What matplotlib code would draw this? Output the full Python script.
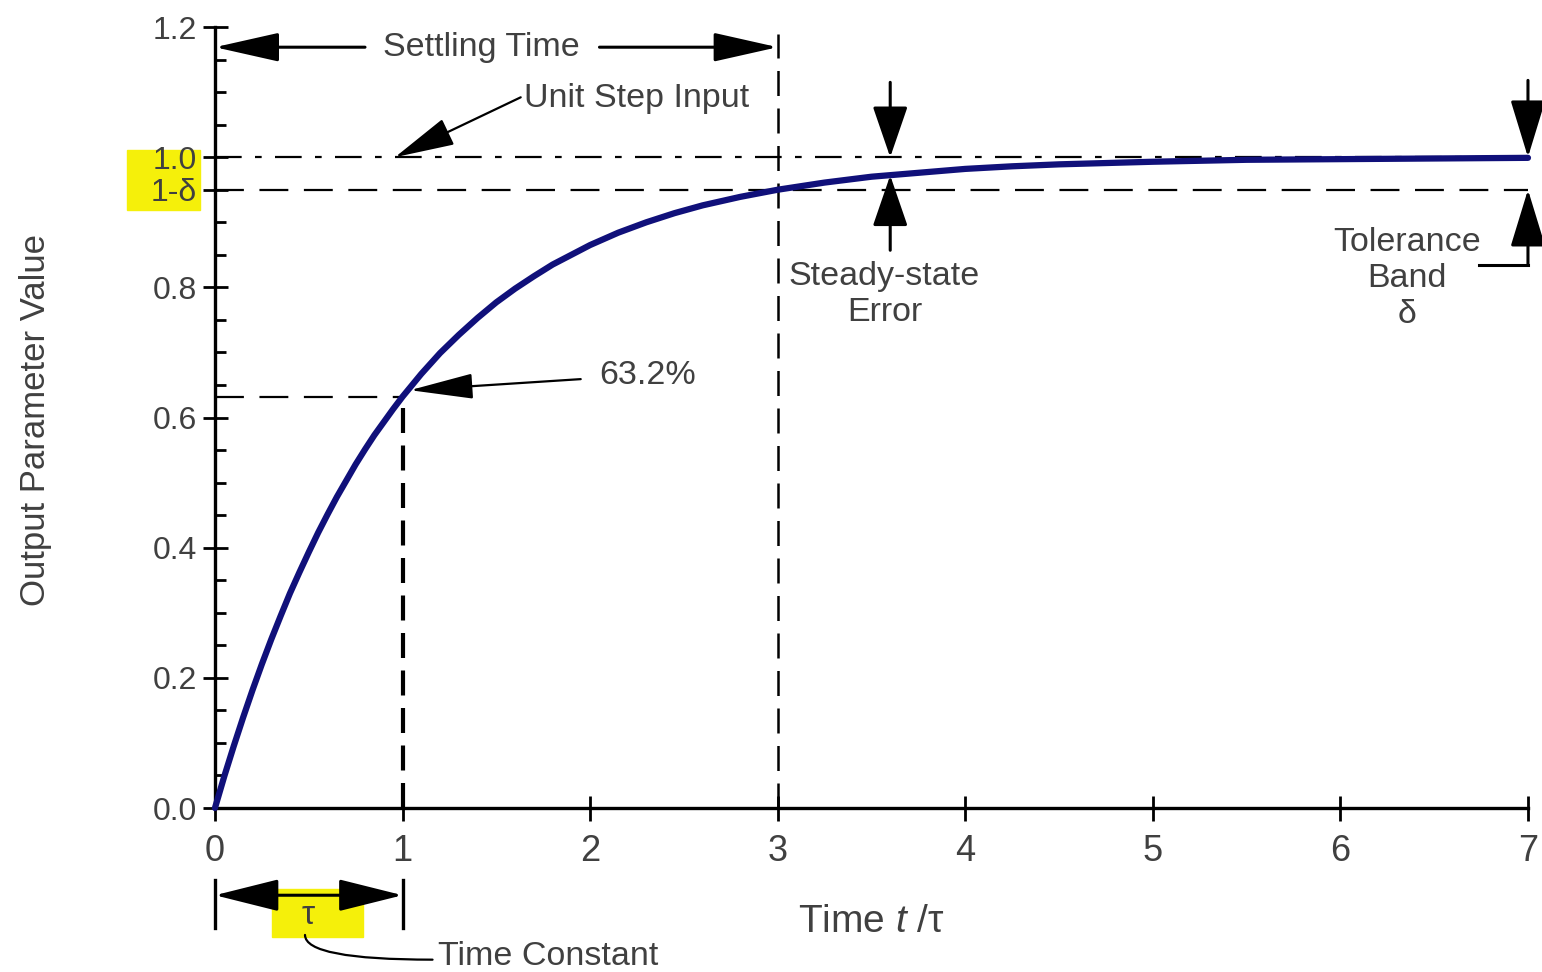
import matplotlib
matplotlib.use("Agg")
import matplotlib.pyplot as plt
from matplotlib.patches import Rectangle
from matplotlib.ticker import MultipleLocator

plt.rcParams['font.family'] = ['Liberation Sans', 'DejaVu Sans']
plt.rcParams['mathtext.fontset'] = 'custom'
plt.rcParams['mathtext.it'] = 'Liberation Sans:italic'
plt.rcParams['mathtext.rm'] = 'Liberation Sans'

# response (output vs t/tau)
t_pts = [0, 0.05, 0.1, 0.15, 0.2, 0.25, 0.3, 0.35, 0.4, 0.45, 0.5, 0.55, 0.6,
         0.65, 0.7, 0.75, 0.8, 0.85, 0.9, 0.95, 1.0, 1.1, 1.2, 1.3, 1.4, 1.5,
         1.6, 1.7, 1.8, 1.9, 2.0, 2.15, 2.3, 2.45, 2.6, 2.8, 3.0, 3.25, 3.5,
         3.75, 4.0, 4.25, 4.5, 5.0, 5.5, 6.0, 6.5, 7.0]
y_pts = [0, 0.049, 0.095, 0.139, 0.181, 0.221, 0.259, 0.295, 0.33, 0.362,
         0.393, 0.423, 0.451, 0.478, 0.503, 0.528, 0.551, 0.573, 0.593, 0.613,
         0.632, 0.667, 0.699, 0.727, 0.753, 0.777, 0.798, 0.817, 0.835, 0.85,
         0.865, 0.884, 0.90, 0.914, 0.926, 0.939, 0.95, 0.961, 0.97, 0.976,
         0.982, 0.986, 0.989, 0.993, 0.996, 0.997, 0.998, 0.999]

step_level = 1.0
band_level = 0.95
tau_level = 0.632
tau = 1.0
t_settle = 3.0

x_ticks = [0, 1, 2, 3, 4, 5, 6, 7]
y_ticks = [0.0, 0.2, 0.4, 0.6, 0.8, 0.95, 1.0, 1.2]
y_ticklabels = ['0.0', '0.2', '0.4', '0.6', '0.8', '1-δ', '1.0', '1.2']

txt = '#404040'
navy = '#10107a'
yellow = '#f5f00a'

fig = plt.figure(figsize=(15.42, 9.72), dpi=100)
ax = fig.add_axes([0.1394, 0.1687, 0.8515, 0.8035])
ax.set_xlim(0, 7)
ax.set_ylim(0, 1.2)

for s in ['top', 'right']:
    ax.spines[s].set_visible(False)
for s in ['left', 'bottom']:
    ax.spines[s].set_linewidth(2.4)
    ax.spines[s].set_clip_on(False)

ax.set_xticks(x_ticks)
ax.set_yticks(y_ticks)
ax.set_yticklabels(y_ticklabels)
ax.yaxis.set_minor_locator(MultipleLocator(0.05))
ax.tick_params(axis='both', which='major', direction='inout', length=18,
               width=2, colors='black', labelcolor=txt)
ax.tick_params(axis='x', labelsize=26, pad=10)
ax.tick_params(axis='y', labelsize=23, pad=4)
ax.tick_params(axis='y', which='minor', direction='in', length=8, width=2)

# yellow highlight behind 1.0 / 1-delta labels
ax.add_patch(Rectangle((-0.47, 0.919), 0.39, 0.092, color=yellow,
                       clip_on=False, zorder=0))

# reference lines
ax.plot([0, 7], [step_level, step_level], color='black', lw=1.6,
        linestyle=(0, (12, 6, 3, 6)), zorder=2, clip_on=False)
ax.plot([0, 7], [band_level, band_level], color='black', lw=1.6,
        linestyle=(0, (13, 7)), zorder=2, clip_on=False)
ax.plot([0, tau], [tau_level, tau_level], color='black', lw=1.6,
        linestyle=(0, (13, 7)), zorder=2)
ax.plot([tau, tau], [0, tau_level], color='black', lw=3,
        linestyle=(0, (6, 3)), zorder=2)
ax.plot([t_settle, t_settle], [0, 1.19], color='black', lw=1.8,
        linestyle=(0, (10, 5)), zorder=2, clip_on=False)

# response curve
ax.plot(t_pts, y_pts, color=navy, lw=4.5, zorder=3, clip_on=False,
        solid_capstyle='round', solid_joinstyle='round')


def arrow(tail, tip, lw=2, hl=1.8, hw=0.5):
    ax.annotate('', xy=tip, xytext=tail, annotation_clip=False,
                arrowprops=dict(arrowstyle=f'-|>,head_length={hl},head_width={hw}',
                                lw=lw, color='black', shrinkA=0, shrinkB=0,
                                mutation_scale=20))


# settling time
ys = 1.169
arrow((0.80, ys), (0, ys), lw=2.2, hl=2.0, hw=0.45)
arrow((2.05, ys), (t_settle, ys), lw=2.2, hl=2.0, hw=0.45)
ax.text(1.42, ys, 'Settling Time', fontsize=24.5, color=txt, ha='center', va='center')

# unit step input
arrow((1.63, 1.092), (0.96, 1.0), lw=1.6, hl=1.9, hw=0.45)
ax.text(1.65, 1.09, 'Unit Step Input', fontsize=24.5, color=txt, ha='left', va='center')

# 63.2%
arrow((1.95, 0.659), (1.04, 0.642), lw=1.6, hl=2.0, hw=0.4)
ax.text(2.05, 0.664, '63.2%', fontsize=24.5, color=txt, ha='left', va='center')

# steady-state error
arrow((3.6, 1.115), (3.6, 1.0), lw=2.2, hl=1.6, hw=0.55)
arrow((3.6, 0.857), (3.6, 0.972), lw=2.2, hl=1.6, hw=0.55)
ax.text(3.57, 0.789, 'Steady-state\nError', fontsize=24.5, color=txt,
        ha='center', va='center', linespacing=1.2)

# tolerance band
arrow((7, 1.118), (7, 1.0), lw=2.2, hl=1.8, hw=0.55)
arrow((7, 0.834), (7, 0.95), lw=2.2, hl=1.8, hw=0.55)
ax.plot([6.74, 7], [0.834, 0.834], color='black', lw=2.2, clip_on=False)
ax.text(6.354, 0.814, 'Tolerance\nBand\nδ', fontsize=24.5, color=txt,
        ha='center', va='center', linespacing=1.2)

# time constant below the axis
yt = -0.134
ax.add_patch(Rectangle((0.304, -0.198), 0.485, 0.074, color=yellow,
                       clip_on=False, zorder=1))
ax.annotate('', xy=(tau, yt), xytext=(0, yt), annotation_clip=False,
            arrowprops=dict(arrowstyle='<|-|>,head_length=2.0,head_width=0.5',
                            lw=2.2, color='black', shrinkA=0, shrinkB=0,
                            mutation_scale=20))
ax.plot([0, 0], [-0.111, -0.184], color='black', lw=2.4, clip_on=False)
ax.plot([tau, tau], [-0.111, -0.184], color='black', lw=2.4, clip_on=False)
ax.text(0.496, -0.165, 'τ', fontsize=24, color=txt, ha='center', va='center')
ax.annotate('', xy=(1.16, -0.233), xytext=(0.48, -0.195), annotation_clip=False,
            arrowprops=dict(arrowstyle='-', lw=1.6, color='black', shrinkA=0,
                            shrinkB=0, connectionstyle='angle3,angleA=90,angleB=0'))
ax.text(1.19, -0.228, 'Time Constant', fontsize=24.5, color=txt, ha='left', va='center')

# axis labels
ax.set_xlabel('Time $\\mathit{t}$ /τ', fontsize=28, color=txt, va='center')
ax.xaxis.set_label_coords(0.5, -0.146)
ax.set_ylabel('Output Parameter Value', fontsize=25, color=txt, va='center')
ax.yaxis.set_label_coords(-0.137, 0.497)

fig.savefig('out.png', dpi=100)
